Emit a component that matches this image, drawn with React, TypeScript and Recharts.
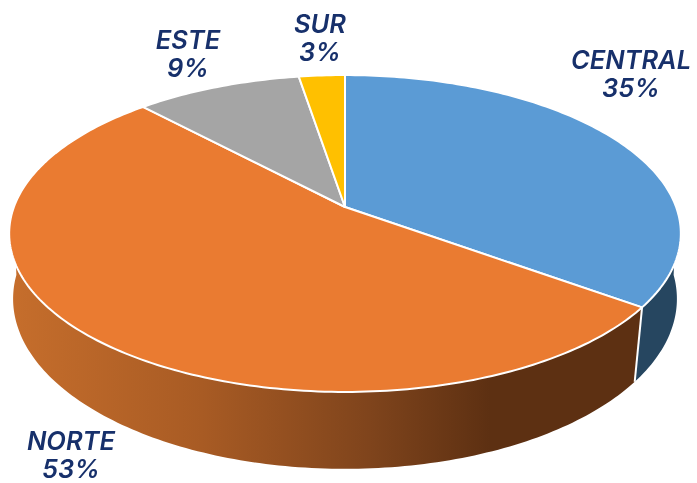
import React from "react";
import { PieChart, Pie } from "recharts";

const categories = ["CENTRAL", "NORTE", "ESTE", "SUR"];
const shares = [35, 53, 9.4, 2.6];
const shareLabels = ["35%", "53%", "9%", "3%"];
const topColors = ["#5B9BD5", "#EA7B31", "#A5A5A5", "#FFC000"];
const wallColors = ["#264660", "url(#norteWall)", "#636363", "#997300"];
const labelCenters = [
  [631, 61],
  [71, 442],
  [188, 41],
  [320, 25],
];

const data = categories.map((name, i) => ({ name, value: shares[i] }));

const W = 697;
const H = 483;
const RAD = Math.PI / 180;

// Perspective projections of the pie's circle onto the page
const TOP = { ax: 2.15, by: 1, k: 0.1672, dy: 0 };
const BOTTOM = { ax: 2.134, by: 1.0825, k: 0.14, dy: 68 };

type Proj = typeof TOP;

function project(p: Proj, cx: number, cy: number, r: number, deg: number) {
  const u = Math.cos(deg * RAD);
  const v = Math.sin(deg * RAD);
  const w = 1 + p.k * v;
  return [cx + (p.ax * r * u) / w, cy + p.dy - (p.by * r * v) / w];
}

function arcPoints(p: Proj, cx: number, cy: number, r: number, from: number, to: number) {
  const n = Math.max(2, Math.ceil(Math.abs(from - to)));
  const pts: number[][] = [];
  for (let i = 0; i <= n; i++) pts.push(project(p, cx, cy, r, from + ((to - from) * i) / n));
  return pts;
}

const toPath = (pts: number[][]) =>
  pts.map((q, i) => `${i ? "L" : "M"}${q[0].toFixed(2)},${q[1].toFixed(2)}`).join(" ") + " Z";

function TopSlice(props: any) {
  const { cx, cy, outerRadius, startAngle, endAngle, index } = props;
  const pts = [[cx, cy], ...arcPoints(TOP, cx, cy, outerRadius, startAngle, endAngle)];
  return <path d={toPath(pts)} fill={topColors[index]} stroke="#FFFFFF" strokeWidth={2} strokeLinejoin="round" />;
}

function WallSlice(props: any) {
  const { cx, cy, outerRadius, startAngle, endAngle, index } = props;
  // Only the part of the rim facing the viewer (angles between -180 and 0) is drawn
  const from = Math.min(startAngle, 0);
  const to = Math.max(endAngle, -180);
  if (from <= to) return <g />;
  const upper = arcPoints(TOP, cx, cy, outerRadius, from, to);
  const lower = arcPoints(BOTTOM, cx, cy, outerRadius, to, from);
  const showDivider = startAngle < 0 && startAngle > -180;
  const a = project(TOP, cx, cy, outerRadius, startAngle);
  const b = project(BOTTOM, cx, cy, outerRadius, startAngle);
  return (
    <g>
      <path d={toPath([...upper, ...lower])} fill={wallColors[index]} stroke="none" />
      {showDivider && <line x1={a[0]} y1={a[1]} x2={b[0]} y2={b[1]} stroke="#FFFFFF" strokeWidth={2} />}
    </g>
  );
}

function SliceLabel(props: any) {
  const { index } = props;
  const [x, y] = labelCenters[index];
  const style = {
    fontFamily: 'Inter, "Open Sans", sans-serif',
    fontStyle: "italic" as const,
    fontWeight: 600,
    fontSize: 25.5,
    fill: "#17306B",
  };
  return (
    <text textAnchor="middle" style={style}>
      <tspan x={x} y={y + 8}>
        {categories[index]}
      </tspan>
      <tspan x={x} y={y + 36}>
        {shareLabels[index]}
      </tspan>
    </text>
  );
}

export default function App() {
  return (
    <div style={{ position: "absolute", left: 0, top: 0, width: W, height: H, filter: "blur(0.5px)" }}>
      <PieChart width={W} height={H} margin={{ top: 0, right: 0, bottom: 0, left: 0 }}>
        <defs>
          <linearGradient id="norteWall" gradientUnits="userSpaceOnUse" x1={9} y1={0} x2={490} y2={0}>
            <stop offset="0" stopColor="#C66E2C" />
            <stop offset="0.4" stopColor="#A85B24" />
            <stop offset="0.75" stopColor="#7F441C" />
            <stop offset="1" stopColor="#5D3012" />
          </linearGradient>
        </defs>
        <Pie
          data={data}
          dataKey="value"
          nameKey="name"
          cx={345}
          cy={207}
          innerRadius={0}
          outerRadius={154}
          startAngle={90}
          endAngle={-270}
          paddingAngle={0}
          stroke="none"
          shape={WallSlice}
          isAnimationActive={false}
        />
        <Pie
          data={data}
          dataKey="value"
          nameKey="name"
          cx={345}
          cy={207}
          innerRadius={0}
          outerRadius={154}
          startAngle={90}
          endAngle={-270}
          paddingAngle={0}
          stroke="none"
          shape={TopSlice}
          label={SliceLabel}
          labelLine={false}
          isAnimationActive={false}
        />
      </PieChart>
    </div>
  );
}
